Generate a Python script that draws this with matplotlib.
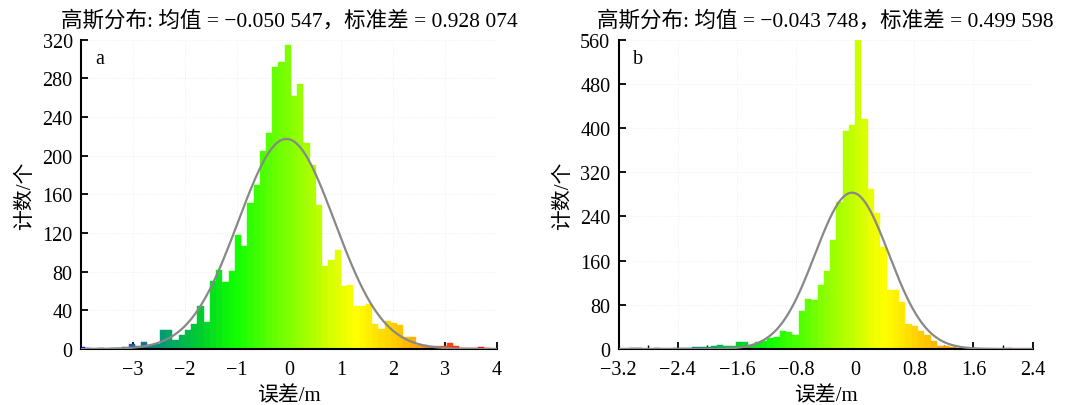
import matplotlib
matplotlib.use("Agg")
import matplotlib.pyplot as plt
import numpy as np
from matplotlib.colors import LinearSegmentedColormap
from matplotlib.ticker import MultipleLocator

plt.rcParams["font.family"] = ["Liberation Serif", "Noto Sans CJK SC"]
plt.rcParams["axes.unicode_minus"] = True

# panel a: histogram of errors, bins of 0.12 m starting at -4.043
bin_start_a = -4.043
bin_width_a = 0.12
counts_a = [2, 1, 0, 1, 0, 1, 1, 2, 5, 3, 7, 4, 5, 20, 20, 9, 14, 20, 26, 45,
            28, 70, 82, 69, 81, 118, 107, 151, 170, 205, 223, 292, 297, 314, 262,
            274, 213, 190, 149, 86, 92, 102, 65, 66, 45, 45, 47, 26, 21, 29, 27,
            25, 12, 12, 4, 4, 3, 3, 3, 6, 3, 1, 1, 1, 2, 1]
mean_a, std_a = -0.050547, 0.928074

# panel b: bins of 0.085 m starting at -3.145
bin_start_b = -3.145
bin_width_b = 0.085
counts_b = [0, 1, 1, 0, 0, 1, 0, 0, 1, 2, 1, 3, 3, 4, 5, 7, 6, 6, 12, 12,
            8, 12, 15, 20, 21, 33, 31, 25, 68, 90, 89, 115, 141, 197, 266, 395,
            405, 561, 416, 289, 247, 184, 107, 107, 86, 45, 42, 33, 25, 14, 5, 5,
            4, 1, 1, 0, 0, 0, 0, 0, 0, 2]
mean_b, std_b = -0.043748, 0.499598

xticks_a = [-3, -2, -1, 0, 1, 2, 3, 4]
yticks_a = [0, 40, 80, 120, 160, 200, 240, 280, 320]
xticks_b = [-3.2, -2.4, -1.6, -0.8, 0, 0.8, 1.6, 2.4]
xlabels_b = ["\u22123.2", "\u22122.4", "\u22121.6", "\u22120.8", "0", "0.8", "1.6", "2.4"]
yticks_b = [0, 80, 160, 240, 320, 400, 480, 560]

cmap = LinearSegmentedColormap.from_list("err", [
    (0.0, "#0000ff"), (0.13, "#2060a0"), (0.21, "#00a070"), (0.29, "#00cc30"),
    (0.38, "#10ff00"), (0.51, "#80ff00"), (0.636, "#e8ff00"), (0.675, "#ffff00"),
    (0.79, "#ffc000"), (0.84, "#ff9900"), (0.9, "#ff4010"), (1.0, "#ff0000")])

FS = 14.5


def draw(ax, start, width, counts, mean, std, title, letter):
    counts = np.asarray(counts, dtype=float)
    left = start + width * np.arange(len(counts))
    lo, hi = left[0], left[-1] + width
    colors = cmap((left + width / 2 - lo) / (hi - lo))
    ax.bar(left, counts, width=width, align="edge", color=colors,
           edgecolor=colors, linewidth=0.3, zorder=2)
    xs = np.linspace(lo - 1, hi + 1, 600)
    n = counts.sum()
    pdf = n * width * np.exp(-0.5 * ((xs - mean) / std) ** 2) / (std * np.sqrt(2 * np.pi))
    ax.plot(xs, pdf, color="#888888", lw=1.6, zorder=3)
    ax.set_title(title, fontsize=15.5, pad=10)
    ax.text(0.035, 0.94, letter, transform=ax.transAxes, fontsize=FS,
            va="center", ha="left")
    ax.set_xlabel("误差/m", fontsize=FS + 0.5, labelpad=5)
    ax.set_ylabel("计数/个", fontsize=FS + 0.5, labelpad=5)
    for s in ["top", "right"]:
        ax.spines[s].set_visible(False)
    for s in ["left", "bottom"]:
        ax.spines[s].set_linewidth(1.5)
    ax.tick_params(direction="in", length=5, width=1.3, labelsize=FS)
    ax.tick_params(axis="x", pad=8)
    ax.tick_params(axis="y", pad=6)
    ax.grid(True, color="#ececec", lw=0.6, ls=":", zorder=0)
    ax.set_axisbelow(True)


fig = plt.figure(figsize=(10.65, 4.06), dpi=100)
ax_a = fig.add_axes([0.0761, 0.1379, 0.3906, 0.7619])
ax_b = fig.add_axes([0.5809, 0.1379, 0.3887, 0.7619])

draw(ax_a, bin_start_a, bin_width_a, counts_a, mean_a, std_a,
     "高斯分布: 均值 = \u22120.050 547，标准差 = 0.928 074", "a")
ax_a.set_xlim(-4.0, 4.0)
ax_a.set_ylim(0, 320)
ax_a.set_xticks(xticks_a)
ax_a.set_yticks(yticks_a)

draw(ax_b, bin_start_b, bin_width_b, counts_b, mean_b, std_b,
     "高斯分布: 均值 = \u22120.043 748，标准差 = 0.499 598", "b")
ax_b.set_xlim(-3.2, 2.4)
ax_b.set_ylim(0, 560)
ax_b.set_xticks(xticks_b)
ax_b.set_xticklabels(xlabels_b)
ax_b.set_yticks(yticks_b)
ax_b.xaxis.set_minor_locator(MultipleLocator(0.4))
ax_b.tick_params(which="minor", direction="in", length=3, width=1)

fig.savefig("out.png", dpi=100)
